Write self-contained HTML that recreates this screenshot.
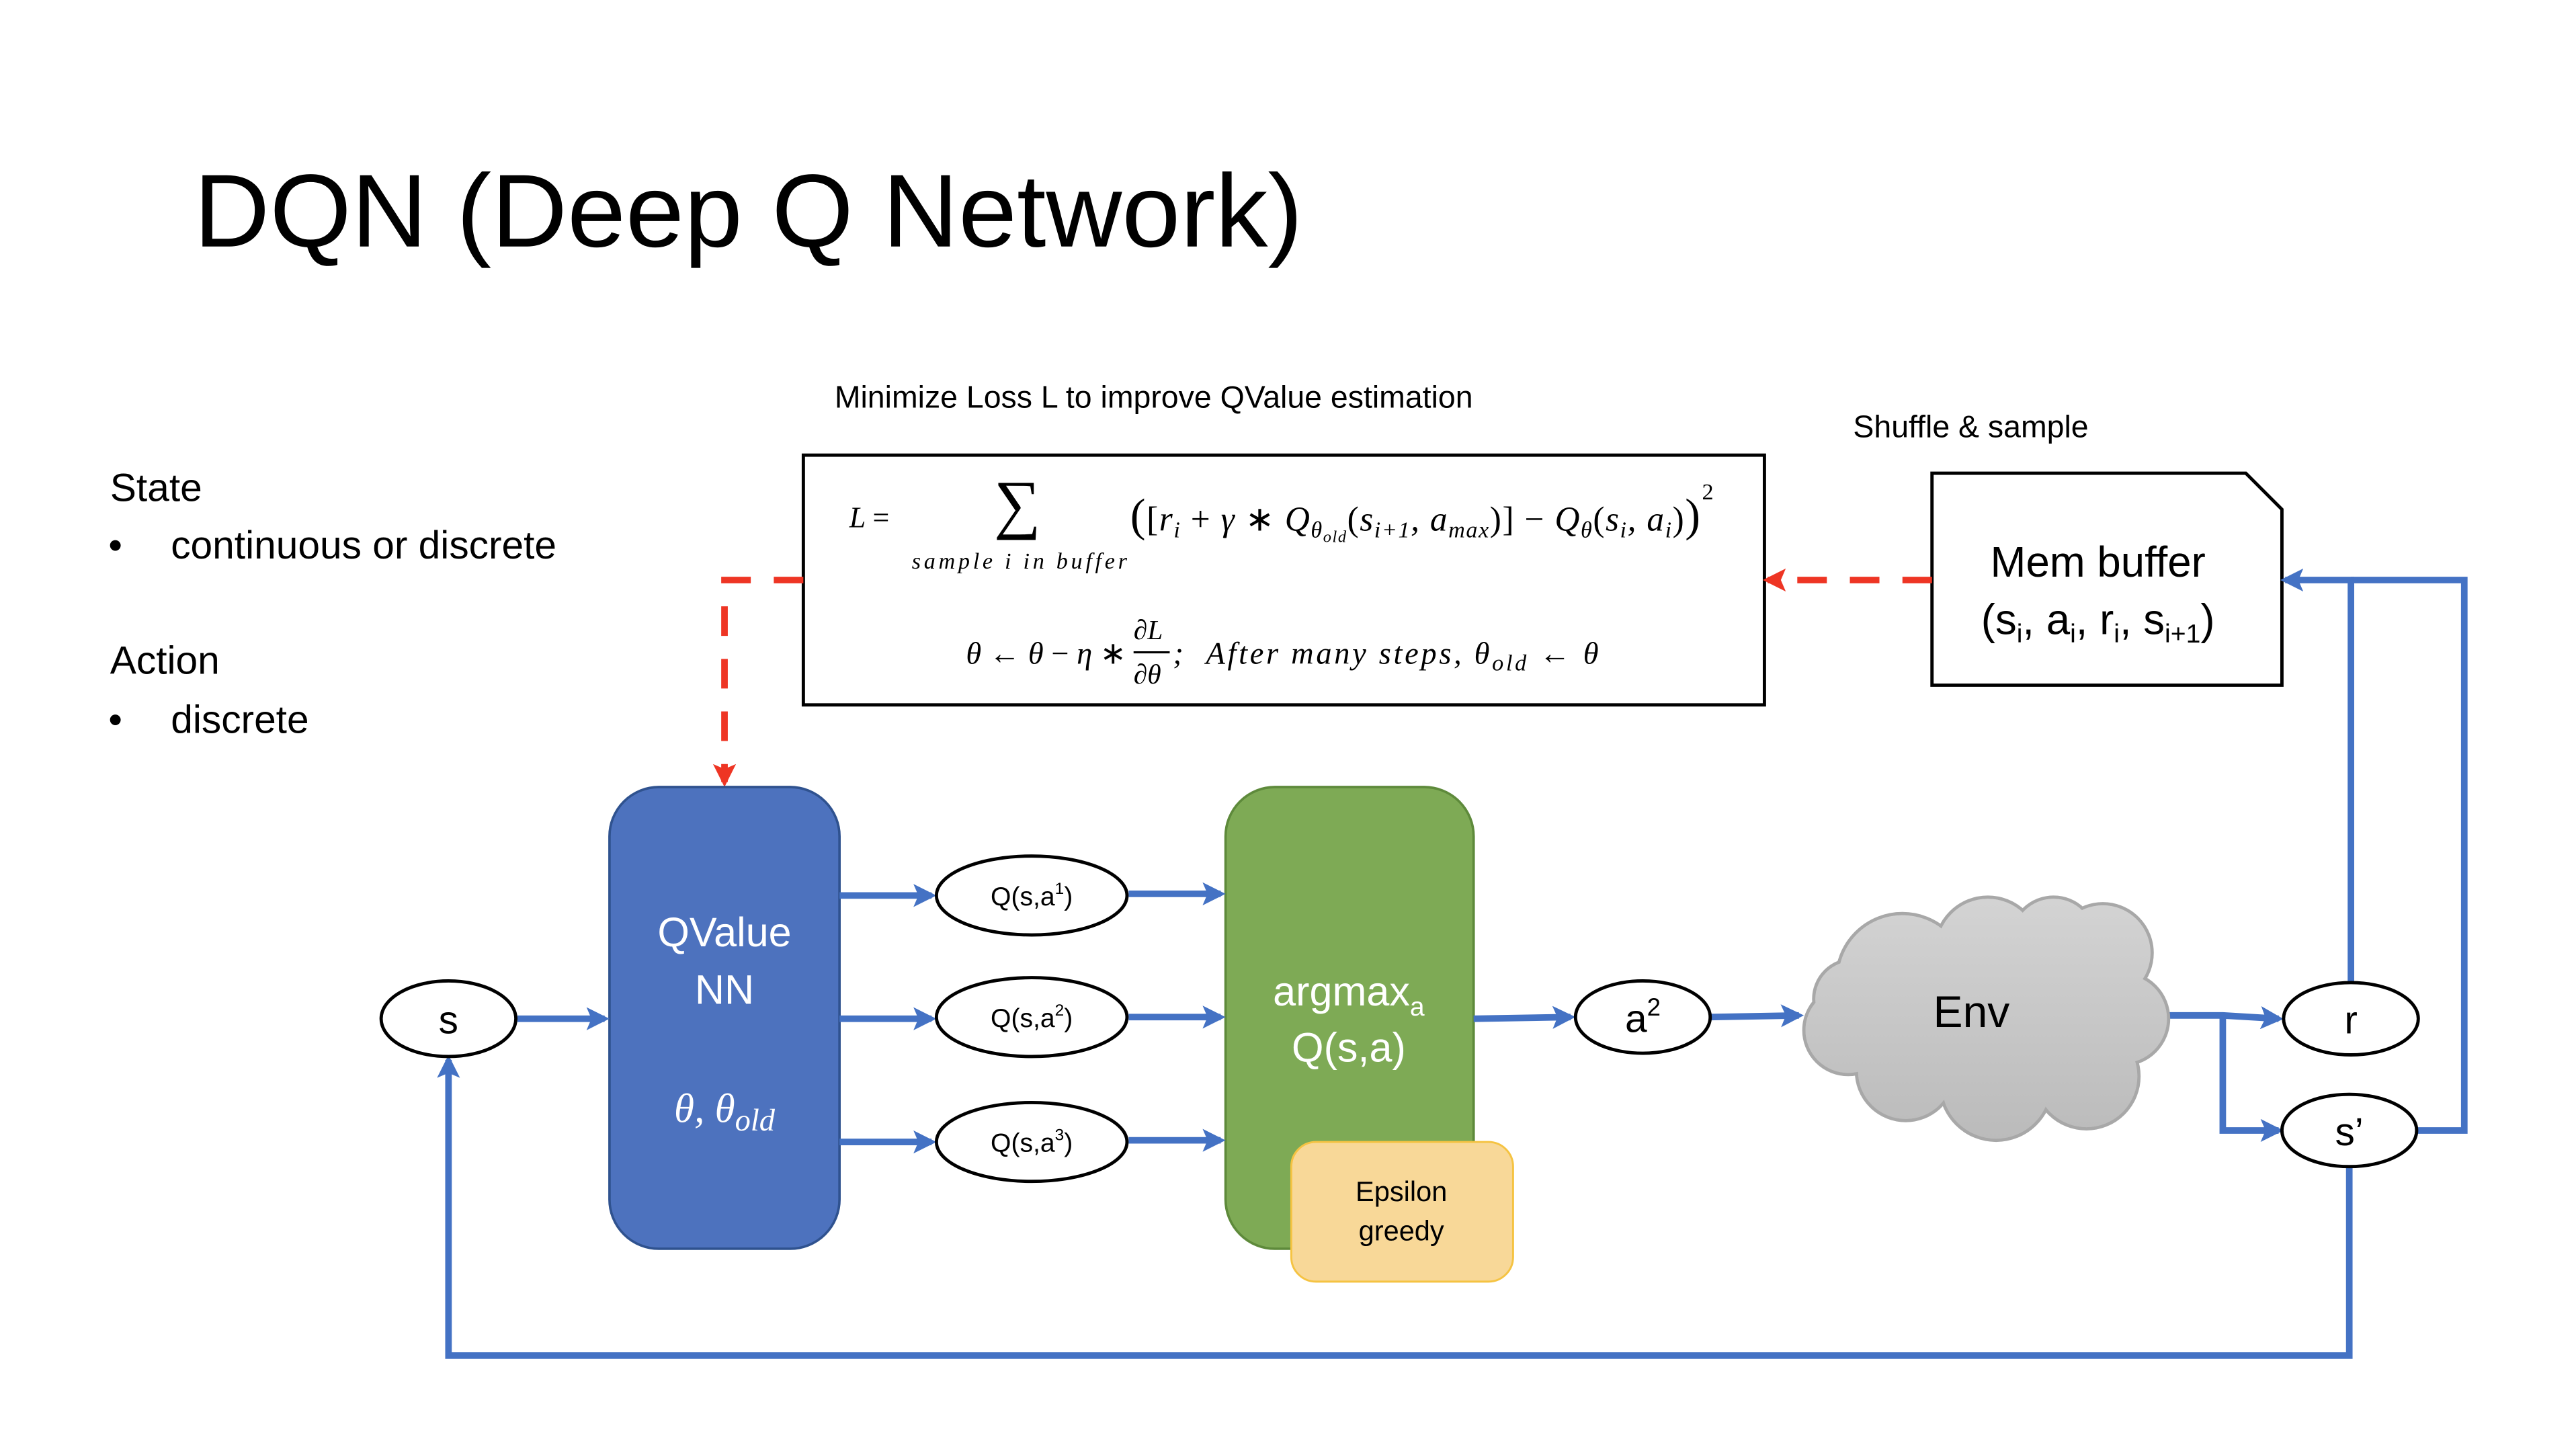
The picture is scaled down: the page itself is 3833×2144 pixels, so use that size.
<!DOCTYPE html>
<html><head><meta charset="utf-8"><style>
html,body{margin:0;padding:0;background:#fff;}
svg{display:block;}
.s{font-family:"Liberation Sans",sans-serif;}
.m{font-family:"Liberation Serif",serif;font-style:italic;}
</style></head><body>
<svg width="3833" height="2144" viewBox="0 0 1568 877" preserveAspectRatio="none" xmlns="http://www.w3.org/2000/svg">
<defs>
<marker id="ab" markerWidth="14" markerHeight="14" refX="11" refY="7" orient="auto" markerUnits="userSpaceOnUse" viewBox="0 0 14 14"><path d="M0,0 L14,7 L0,14 L3,7Z" fill="#4472C4"/></marker>
<marker id="ar" markerWidth="14" markerHeight="14" refX="11" refY="7" orient="auto" markerUnits="userSpaceOnUse" viewBox="0 0 14 14"><path d="M0,0 L14,7 L0,14 L3,7Z" fill="#EE3524"/></marker>
<linearGradient id="cg" gradientUnits="userSpaceOnUse" x1="0" y1="543" x2="0" y2="693"><stop offset="0" stop-color="#D4D4D4"/><stop offset="1" stop-color="#BBBBBB"/></linearGradient>
</defs>
<rect width="1568" height="877" fill="#fff"/>
<text x="118" y="150" class="s" font-size="63" fill="#000" textLength="675" lengthAdjust="spacingAndGlyphs">DQN (Deep Q Network)</text>
<text x="67" y="305" class="s" font-size="24">State</text>
<text x="66" y="340" class="s" font-size="24">•</text>
<text x="104" y="340" class="s" font-size="24">continuous or discrete</text>
<text x="67" y="410" class="s" font-size="24">Action</text>
<text x="66" y="446" class="s" font-size="24">•</text>
<text x="104" y="446" class="s" font-size="24">discrete</text>
<text x="508" y="248" class="s" font-size="19">Minimize Loss L to improve QValue estimation</text>
<text x="1128" y="266" class="s" font-size="19">Shuffle &amp; sample</text>

<rect x="489" y="277" width="585" height="152" fill="#fff" stroke="#000" stroke-width="2"/>
<text x="517" y="321" class="m" font-size="18">L <tspan font-style="normal">=</tspan></text>
<text x="605" y="320" font-family="Liberation Serif,serif" font-size="40">∑</text>
<text x="555" y="346" class="m" font-size="14" textLength="131" lengthAdjust="spacing">sample i in buffer</text>
<text x="688" y="323" class="m" font-size="21" textLength="347" lengthAdjust="spacing"><tspan font-size="28" font-style="normal">(</tspan><tspan font-style="normal">[</tspan>r<tspan font-size="14" dy="4">i</tspan><tspan dy="-4" font-style="normal"> + </tspan>γ<tspan font-style="normal"> ∗ </tspan>Q<tspan font-size="14" dy="4">θ</tspan><tspan font-size="10" dy="3">old</tspan><tspan dy="-7" font-style="normal">(</tspan>s<tspan font-size="14" dy="4">i+1</tspan><tspan dy="-4">, a</tspan><tspan font-size="14" dy="4">max</tspan><tspan dy="-4" font-style="normal">)]</tspan><tspan font-style="normal"> − </tspan>Q<tspan font-size="14" dy="4">θ</tspan><tspan dy="-4" font-style="normal">(</tspan>s<tspan font-size="14" dy="4">i</tspan><tspan dy="-4">, a</tspan><tspan font-size="14" dy="4">i</tspan><tspan dy="-4" font-style="normal">)</tspan><tspan font-size="28" font-style="normal">)</tspan></text>
<text x="1036" y="304" font-family="Liberation Serif,serif" font-size="14">2</text>
<text x="588" y="404" class="m" font-size="19">θ <tspan font-style="normal">← </tspan>θ <tspan font-style="normal">− </tspan>η <tspan font-style="normal">∗</tspan></text>
<text x="690" y="389" class="m" font-size="17">∂L</text>
<line x1="690" y1="397" x2="712" y2="397" stroke="#000" stroke-width="1.3"/>
<text x="690" y="416" class="m" font-size="17">∂θ</text>
<text x="714" y="404" class="m" font-size="19" textLength="259" lengthAdjust="spacing">; <tspan dx="6">After many steps, θ</tspan><tspan font-size="14" dy="4">old</tspan><tspan dy="-4" font-style="normal"> ← </tspan>θ</text>

<path d="M1176,288 L1367,288 L1389,310 L1389,417 L1176,417Z" fill="#fff" stroke="#000" stroke-width="2"/>
<text x="1277" y="351" class="s" font-size="26" text-anchor="middle">Mem buffer</text>
<text x="1277" y="386" class="s" font-size="26" text-anchor="middle">(s<tspan font-size="16" dy="5">i</tspan><tspan dy="-5">, a</tspan><tspan font-size="16" dy="5">i</tspan><tspan dy="-5">, r</tspan><tspan font-size="16" dy="5">i</tspan><tspan dy="-5">, s</tspan><tspan font-size="16" dy="5">i+1</tspan><tspan dy="-5">)</tspan></text>

<line x1="1176" y1="353" x2="1076" y2="353" stroke="#EE3524" stroke-width="4" stroke-dasharray="18,14" marker-end="url(#ar)"/>
<polyline points="489,353 441,353 441,476" fill="none" stroke="#EE3524" stroke-width="4" stroke-dasharray="18,14" marker-end="url(#ar)"/>

<rect x="371" y="479" width="140" height="281" rx="30" fill="#4D72BE" stroke="#2F528F" stroke-width="1.5"/>
<text x="441" y="576" class="s" font-size="25" fill="#fff" text-anchor="middle">QValue</text>
<text x="441" y="611" class="s" font-size="25" fill="#fff" text-anchor="middle">NN</text>
<text x="441" y="683" class="m" font-size="25" fill="#fff" text-anchor="middle">θ, θ<tspan font-size="19" dy="5">old</tspan></text>

<rect x="746" y="479" width="151" height="281" rx="30" fill="#7EAA55" stroke="#5E8A3B" stroke-width="1.5"/>
<text x="821" y="612" class="s" font-size="25" fill="#fff" text-anchor="middle">argmax<tspan font-size="16" dy="6">a</tspan></text>
<text x="821" y="646" class="s" font-size="25" fill="#fff" text-anchor="middle">Q(s,a)</text>
<rect x="786" y="695" width="135" height="85" rx="15" fill="#F8D898" stroke="#F5C342" stroke-width="1.2"/>
<text x="853" y="731" class="s" font-size="17" text-anchor="middle">Epsilon</text>
<text x="853" y="755" class="s" font-size="17" text-anchor="middle">greedy</text>

<g stroke="#4472C4" stroke-width="4" fill="none">
<line x1="315" y1="620" x2="368" y2="620" marker-end="url(#ab)"/>
<line x1="511" y1="545" x2="567" y2="545" marker-end="url(#ab)"/>
<line x1="511" y1="620" x2="567" y2="620" marker-end="url(#ab)"/>
<line x1="511" y1="695" x2="567" y2="695" marker-end="url(#ab)"/>
<line x1="687" y1="544" x2="743" y2="544" marker-end="url(#ab)"/>
<line x1="687" y1="619" x2="743" y2="619" marker-end="url(#ab)"/>
<line x1="687" y1="694" x2="743" y2="694" marker-end="url(#ab)"/>
<line x1="897" y1="620" x2="956" y2="619" marker-end="url(#ab)"/>
<line x1="1041" y1="619" x2="1095" y2="618" marker-end="url(#ab)"/>
<polyline points="1320,618 1353,618 1387,620" marker-end="url(#ab)"/>
<polyline points="1353,618 1353,688 1387,688" marker-end="url(#ab)"/>
<polyline points="1431,598 1431,353 1391,353" marker-end="url(#ab)"/>
<polyline points="1471,688 1500,688 1500,353 1431,353"/>
<polyline points="1430,710 1430,825 273,825 273,645" marker-end="url(#ab)"/>
</g>

<g fill="#fff" stroke="#000" stroke-width="2">
<ellipse cx="273" cy="620" rx="41" ry="23"/>
<ellipse cx="628" cy="545" rx="58" ry="24"/>
<ellipse cx="628" cy="619" rx="58" ry="24"/>
<ellipse cx="628" cy="695" rx="58" ry="24"/>
<ellipse cx="1000" cy="619" rx="41" ry="22"/>
<ellipse cx="1431" cy="620" rx="41" ry="22"/>
<ellipse cx="1430" cy="688" rx="41" ry="22"/>
</g>
<text x="273" y="629" class="s" font-size="24" text-anchor="middle">s</text>
<text x="628" y="551" class="s" font-size="16" text-anchor="middle">Q(s,a<tspan font-size="10" dy="-7">1</tspan><tspan dy="7">)</tspan></text>
<text x="628" y="625" class="s" font-size="16" text-anchor="middle">Q(s,a<tspan font-size="10" dy="-7">2</tspan><tspan dy="7">)</tspan></text>
<text x="628" y="701" class="s" font-size="16" text-anchor="middle">Q(s,a<tspan font-size="10" dy="-7">3</tspan><tspan dy="7">)</tspan></text>
<text x="1000" y="628" class="s" font-size="24" text-anchor="middle">a<tspan font-size="15" dy="-10">2</tspan></text>
<text x="1431" y="629" class="s" font-size="24" text-anchor="middle">r</text>
<text x="1430" y="697" class="s" font-size="24" text-anchor="middle">s’</text>

<g>
<g fill="url(#cg)" stroke="#A8A8A8" stroke-width="2">
<circle cx="1158" cy="596" r="40"/>
<circle cx="1210" cy="578" r="32"/>
<circle cx="1250" cy="572" r="26"/>
<circle cx="1280" cy="580" r="30"/>
<circle cx="1292" cy="620" r="28"/>
<circle cx="1270" cy="655" r="32"/>
<circle cx="1215" cy="660" r="34"/>
<circle cx="1160" cy="652" r="30"/>
<circle cx="1125" cy="627" r="27"/>
<circle cx="1128" cy="608" r="24"/>
</g>
<g fill="url(#cg)">
<circle cx="1158" cy="596" r="39"/>
<circle cx="1210" cy="578" r="31"/>
<circle cx="1250" cy="572" r="25"/>
<circle cx="1280" cy="580" r="29"/>
<circle cx="1292" cy="620" r="27"/>
<circle cx="1270" cy="655" r="31"/>
<circle cx="1215" cy="660" r="33"/>
<circle cx="1160" cy="652" r="29"/>
<circle cx="1125" cy="627" r="26"/>
<circle cx="1128" cy="608" r="23"/>
<rect x="1140" y="590" width="140" height="60"/>
</g>
</g>
<text x="1200" y="625" class="s" font-size="27" text-anchor="middle">Env</text>
</svg>
</body></html>
